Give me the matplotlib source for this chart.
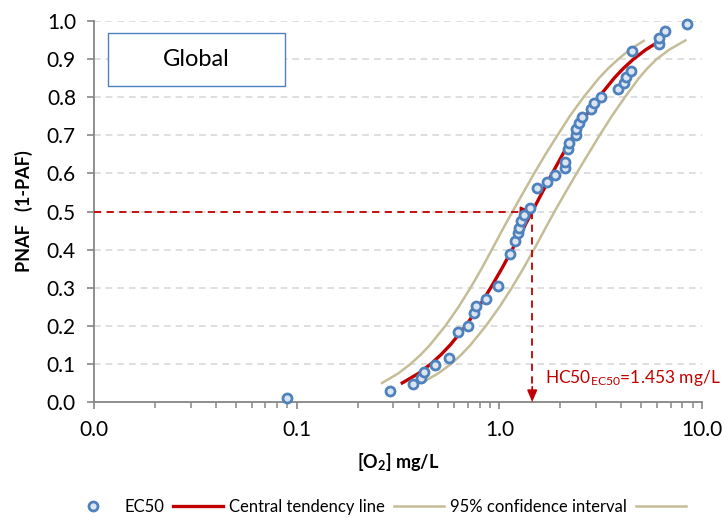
import numpy as np
import matplotlib
matplotlib.use("Agg")
import matplotlib.pyplot as plt
from matplotlib.lines import Line2D
from matplotlib.patches import Rectangle

# ---- data ----
ec50_x = [0.090, 0.288, 0.376, 0.409, 0.426, 0.482, 0.565, 0.626, 0.702, 0.748,
          0.766, 0.855, 0.987, 1.127, 1.197, 1.230, 1.248, 1.281, 1.326, 1.414,
          1.54, 1.71, 1.89, 2.11, 2.11, 2.19, 2.21, 2.38, 2.40, 2.47,
          2.55, 2.83, 2.92, 3.19, 3.84, 4.13, 4.24, 4.44, 4.49, 6.14,
          6.17, 6.58, 8.39]
ec50_y = [0.011, 0.029, 0.046, 0.062, 0.080, 0.097, 0.116, 0.184, 0.199, 0.234,
          0.252, 0.270, 0.304, 0.388, 0.423, 0.443, 0.457, 0.475, 0.491, 0.510,
          0.561, 0.578, 0.596, 0.613, 0.631, 0.664, 0.681, 0.701, 0.716, 0.731,
          0.749, 0.768, 0.784, 0.801, 0.821, 0.838, 0.852, 0.870, 0.922, 0.940,
          0.956, 0.974, 0.991]

central_x = [0.332, 0.399, 0.460, 0.517, 0.573, 0.683, 0.793, 0.907, 1.028, 1.157,
             1.298, 1.453, 1.627, 1.824, 2.054, 2.327, 2.663, 3.094, 3.686, 4.08,
             4.593, 5.29, 5.87]
central_y = [0.05, 0.075, 0.10, 0.125, 0.15, 0.20, 0.25, 0.30, 0.35, 0.40,
             0.45, 0.50, 0.55, 0.60, 0.65, 0.70, 0.75, 0.80, 0.85, 0.875,
             0.90, 0.925, 0.94]

ci_upper_x = [0.264, 0.317, 0.365, 0.411, 0.455, 0.542, 0.630, 0.721, 0.817, 0.919,
              1.031, 1.162, 1.313, 1.486, 1.689, 1.936, 2.225, 2.603, 3.101, 3.435,
              3.866, 4.403, 5.16]
ci_upper_y = [0.05, 0.075, 0.10, 0.125, 0.15, 0.20, 0.25, 0.30, 0.35, 0.40,
              0.45, 0.50, 0.55, 0.60, 0.65, 0.70, 0.75, 0.80, 0.85, 0.875,
              0.90, 0.925, 0.948]

ci_lower_x = [0.413, 0.499, 0.579, 0.651, 0.721, 0.859, 1.003, 1.153, 1.312, 1.481,
              1.664, 1.872, 2.120, 2.405, 2.739, 3.125, 3.584, 4.165, 4.881, 5.357,
              5.972, 6.90, 8.28]
ci_lower_y = [0.05, 0.075, 0.10, 0.125, 0.15, 0.20, 0.25, 0.30, 0.35, 0.40,
              0.45, 0.50, 0.55, 0.60, 0.65, 0.70, 0.75, 0.80, 0.85, 0.875,
              0.90, 0.925, 0.949]

hc50 = 1.453
x_ticks = [0.01, 0.1, 1.0, 10.0]
x_tick_labels = ["0.0", "0.1", "1.0", "10.0"]
y_ticks = [0.0, 0.1, 0.2, 0.3, 0.4, 0.5, 0.6, 0.7, 0.8, 0.9, 1.0]

# ---- style ----
FONT = ["Lato", "DejaVu Sans"]
plt.rcParams["font.family"] = FONT
plt.rcParams["mathtext.fontset"] = "custom"
plt.rcParams["mathtext.rm"] = "Lato"
plt.rcParams["mathtext.bf"] = "Lato:bold"
plt.rcParams["mathtext.it"] = "Lato:italic"

RED = "#c00000"
TAN = "#c4bd97"
BLUE = "#4f81bd"
FACE = "#dce6f2"
AXC = "#868686"

fig = plt.figure(figsize=(7.24, 5.18), dpi=100)
ax = fig.add_axes([94 / 724, 1 - 402 / 518, (702 - 94) / 724, (402 - 21) / 518])

ax.set_xscale("log")
ax.set_xlim(0.01, 10)
ax.set_ylim(0, 1.0)

# grid
for yv in y_ticks[1:]:
    ax.axhline(yv, color="#d9d9d9", lw=1.2, ls=(0, (4, 3)), zorder=0)

# series
ax.plot(ci_upper_x, ci_upper_y, color=TAN, lw=1.8, zorder=2)
ax.plot(ci_lower_x, ci_lower_y, color=TAN, lw=1.8, zorder=2)
ax.plot(central_x, central_y, color=RED, lw=2.4, zorder=3)

# HC50 lines
ax.plot([0.01, hc50], [0.5, 0.5], color=RED, lw=1.3, ls=(0, (4, 3)), zorder=4)
ax.plot([hc50, hc50], [0.5, 0.0], color=RED, lw=1.3, ls=(0, (4, 3)), zorder=4)
ax.annotate("", xy=(hc50, 0.5), xytext=(hc50 * 0.93, 0.5),
            arrowprops=dict(arrowstyle="-|>,head_length=0.7,head_width=0.3",
                            color=RED, lw=1.2, shrinkA=0, shrinkB=0), zorder=5)
ax.annotate("", xy=(hc50, 0.0), xytext=(hc50, 0.04),
            arrowprops=dict(arrowstyle="-|>,head_length=0.7,head_width=0.3",
                            color=RED, lw=1.2, shrinkA=0, shrinkB=0), zorder=5)

ax.plot(ec50_x, ec50_y, ls="none", marker="o", ms=6.5, mew=2.0,
        mec=BLUE, mfc=FACE, zorder=6, clip_on=False)

ax.text(1.677, 0.063, r"HC50$_{\mathrm{EC50}}$=1.453 mg/L", color=RED,
        fontsize=12.5, va="center", ha="left")

# Global box
ax.add_patch(Rectangle((108 / 724, 1 - 86 / 518), (285 - 108) / 724, (86 - 33) / 518,
                       transform=fig.transFigure, fill=True, facecolor="white",
                       edgecolor=BLUE, lw=1.0, zorder=7))
fig.text((108 + 285) / 2 / 724, 1 - 59 / 518, "Global", fontsize=17,
         ha="center", va="center", zorder=8)

# axes
for s in ["top", "right"]:
    ax.spines[s].set_visible(False)
for s in ["left", "bottom"]:
    ax.spines[s].set_color(AXC)
    ax.spines[s].set_linewidth(1.3)

ax.set_xticks(x_ticks)
ax.set_xticklabels(x_tick_labels)
ax.xaxis.set_minor_locator(matplotlib.ticker.LogLocator(base=10, subs=np.arange(2, 10)))
ax.xaxis.set_minor_formatter(matplotlib.ticker.NullFormatter())
ax.set_yticks(y_ticks)
ax.set_yticklabels([f"{v:.1f}" for v in y_ticks])
ax.tick_params(axis="both", which="major", length=5, width=1.2, color=AXC,
               labelsize=15, direction="out", pad=8)
ax.tick_params(axis="x", which="minor", length=4, width=1.1, color=AXC, direction="out")

ax.set_xlabel(r"[O$_\mathbf{2}$] mg/L", fontsize=13, fontweight="bold", labelpad=8)
ax.set_ylabel("PNAF   (1-PAF)", fontsize=13, fontweight="bold", labelpad=10)

handles = [
    Line2D([], [], ls="none", marker="o", ms=6.5, mew=2.0, mec=BLUE, mfc=FACE),
    Line2D([], [], color=RED, lw=2.4),
    Line2D([], [], color=TAN, lw=1.8),
    Line2D([], [], color=TAN, lw=1.8),
]
labels = ["EC50", "Central tendency line", "95% confidence interval", ""]
fig.legend(handles, labels, loc="center", bbox_to_anchor=(0.525, 0.022), ncol=4,
           frameon=False, fontsize=12, handlelength=3.0, handletextpad=0.4,
           columnspacing=0.5, borderpad=0.2)

fig.savefig("out.png", dpi=100)
